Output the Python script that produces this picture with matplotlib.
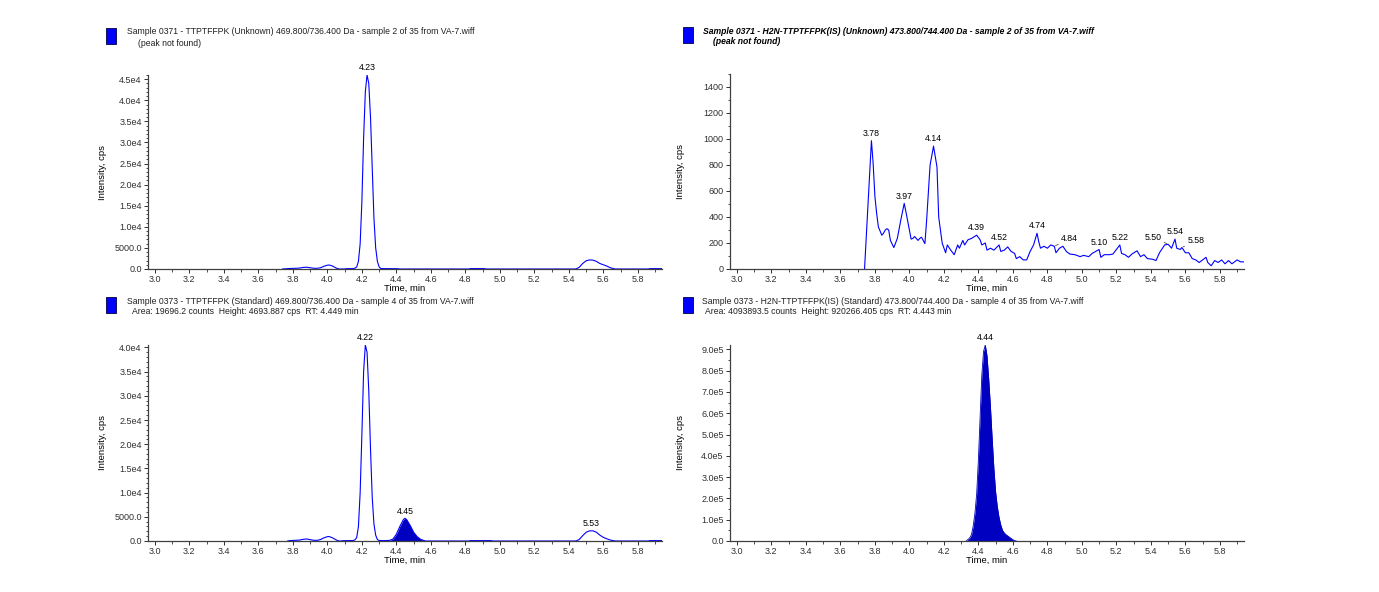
import numpy as np
import matplotlib
matplotlib.use('Agg')
import matplotlib.pyplot as plt
from matplotlib.ticker import MultipleLocator, FuncFormatter
from matplotlib.patches import Rectangle

plt.rcParams['font.family'] = ['Liberation Sans', 'DejaVu Sans']

# --- data ---
tl_time = [3.74, 3.76, 3.78, 3.80, 3.82, 3.84, 3.86, 3.88, 3.90, 3.92, 3.94, 3.96, 3.98, 4.00, 4.01,
           4.03, 4.05, 4.06, 4.07, 4.10, 4.11, 4.13, 4.15, 4.16, 4.17, 4.18, 4.19, 4.20, 4.21, 4.22,
           4.23, 4.24, 4.25, 4.26, 4.27, 4.28, 4.29, 4.30, 4.31, 4.33, 4.36, 4.39, 4.41, 4.42, 4.82,
           4.83, 4.87, 4.91, 4.92, 5.44, 5.46, 5.48, 5.50, 5.52, 5.54, 5.56, 5.58, 5.60, 5.62, 5.64,
           5.66, 5.67, 5.86, 5.87, 5.90, 5.94]
tl_int = [0, 60, 120, 150, 170, 230, 380, 430, 300, 180, 160, 280, 650, 900, 950,
          700, 250, 60, 0, 0, 80, 90, 100, 200, 500, 1800, 6000, 16000, 31000, 42000,
          46000, 44000, 36000, 24000, 12000, 5000, 1800, 500, 120, 90, 80, 80, 60, 0, 0,
          90, 100, 90, 0, 0, 400, 1300, 1950, 2150, 2100, 1800, 1300, 1000, 700, 300,
          80, 0, 0, 80, 90, 90]
tl_labels = [4.23]

tr_time = [3.74, 3.78, 3.79, 3.80, 3.81, 3.82, 3.84, 3.85, 3.86, 3.87, 3.88, 3.89, 3.91, 3.93, 3.95,
           3.97, 3.98, 4.00, 4.01, 4.02, 4.03, 4.05, 4.06, 4.07, 4.09, 4.10, 4.12, 4.14, 4.16, 4.17,
           4.19, 4.21, 4.22, 4.24, 4.26, 4.28, 4.29, 4.31, 4.32, 4.34, 4.36, 4.39, 4.41, 4.42, 4.44,
           4.45, 4.47, 4.49, 4.52, 4.53, 4.55, 4.57, 4.59, 4.61, 4.62, 4.64, 4.66, 4.68, 4.70, 4.72,
           4.74, 4.75, 4.76, 4.78, 4.80, 4.82, 4.84, 4.85, 4.87, 4.89, 4.91, 4.93, 4.96, 4.99, 5.01,
           5.04, 5.06, 5.10, 5.11, 5.13, 5.16, 5.18, 5.22, 5.23, 5.25, 5.27, 5.29, 5.32, 5.34, 5.36,
           5.38, 5.41, 5.43, 5.45, 5.48, 5.50, 5.52, 5.54, 5.55, 5.57, 5.58, 5.60, 5.62, 5.64, 5.66,
           5.68, 5.70, 5.72, 5.73, 5.75, 5.77, 5.79, 5.81, 5.83, 5.85, 5.87, 5.90, 5.92, 5.94]
tr_int = [0, 987, 810, 560, 430, 325, 260, 275, 300, 310, 300, 220, 165, 235, 375,
          505, 440, 300, 230, 235, 250, 220, 235, 245, 195, 375, 800, 945, 785, 400,
          200, 125, 185, 145, 110, 185, 160, 220, 185, 225, 235, 260, 225, 185, 200,
          145, 160, 145, 185, 135, 145, 170, 135, 120, 80, 95, 70, 70, 135, 185,
          275, 210, 160, 175, 160, 185, 175, 125, 160, 175, 135, 115, 110, 95, 105,
          95, 120, 150, 90, 110, 110, 115, 185, 120, 110, 90, 115, 140, 95, 110,
          80, 75, 65, 125, 185, 190, 160, 230, 160, 150, 165, 125, 125, 80, 70,
          50, 70, 90, 50, 25, 65, 50, 70, 40, 65, 40, 70, 55, 55]
tr_labels = [3.78, 3.97, 4.14, 4.39, 4.52, 4.74, 4.84, 5.10, 5.22, 5.50, 5.54, 5.58]

bl_time = [3.77, 3.78, 3.80, 3.82, 3.84, 3.86, 3.88, 3.90, 3.92, 3.94, 3.96, 3.98, 4.00, 4.01, 4.03,
           4.05, 4.06, 4.07, 4.08, 4.09, 4.12, 4.15, 4.16, 4.17, 4.18, 4.19, 4.20, 4.21, 4.22, 4.23,
           4.24, 4.25, 4.26, 4.27, 4.28, 4.29, 4.30, 4.33, 4.36, 4.38, 4.40, 4.42, 4.44, 4.45, 4.46,
           4.48, 4.50, 4.52, 4.54, 4.56, 4.57, 4.82, 4.83, 4.95, 4.96, 5.44, 5.46, 5.48, 5.50, 5.52,
           5.54, 5.56, 5.58, 5.60, 5.62, 5.64, 5.66, 5.67, 5.86, 5.87, 5.94]
bl_int = [0, 80, 120, 150, 200, 350, 420, 280, 150, 130, 300, 650, 900, 930, 650,
          250, 80, 0, 0, 70, 80, 100, 250, 700, 3000, 10000, 22000, 35000, 40500, 39000,
          31000, 19000, 9000, 3500, 1200, 300, 100, 80, 120, 400, 1400, 3000, 4400, 4694, 4400,
          3200, 1800, 900, 350, 100, 0, 0, 80, 80, 0, 0, 300, 1100, 1800, 2100,
          2100, 1800, 1200, 750, 450, 200, 60, 0, 0, 80, 80]
bl_labels = [4.22, 4.45, 5.53]
bl_fill = (4.36, 4.57)

br_time = [4.33, 4.35, 4.36, 4.37, 4.38, 4.39, 4.40, 4.41, 4.42, 4.43, 4.44, 4.45, 4.46, 4.47, 4.48,
           4.49, 4.50, 4.51, 4.52, 4.53, 4.54, 4.55, 4.56, 4.57, 4.58, 4.59, 4.60, 4.61, 4.62]
br_int = [0, 15000, 30000, 70000, 130000, 220000, 380000, 580000, 780000, 890000, 920266, 870000,
          760000, 630000, 480000, 340000, 230000, 160000, 110000, 75000, 50000, 38000, 30000, 24000,
          18000, 12000, 6000, 2000, 0]
br_labels = [4.44]
br_fill = (4.33, 4.62)

headers = [
    ("Sample 0371 - TTPTFFPK (Unknown) 469.800/736.400 Da - sample 2 of 35 from VA-7.wiff",
     "(peak not found)"),
    ("Sample 0371 - H2N-TTPTFFPK(IS) (Unknown) 473.800/744.400 Da - sample 2 of 35 from VA-7.wiff",
     "(peak not found)"),
    ("Sample 0373 - TTPTFFPK (Standard) 469.800/736.400 Da - sample 4 of 35 from VA-7.wiff",
     "Area: 19696.2 counts  Height: 4693.887 cps  RT: 4.449 min"),
    ("Sample 0373 - H2N-TTPTFFPK(IS) (Standard) 473.800/744.400 Da - sample 4 of 35 from VA-7.wiff",
     "Area: 4093893.5 counts  Height: 920266.405 cps  RT: 4.443 min"),
]

LINE = '#0000ff'
FILL = '#0000c0'
W, H = 1379, 592


def sci_fmt(v, pos):
    if v == 0:
        return '0.0'
    if abs(v) < 1e4:
        return '%.1f' % v
    m, e = ('%.1e' % v).split('e')
    return '%se%d' % (m, int(e))


def int_fmt(v, pos):
    return '%d' % v


def make_ax(left_px, top_px, bottom_px, ymax, ymajor, yminor, fmt, ylab_x):
    ax = fig.add_axes([left_px / W, (H - bottom_px) / H, 514 / W, (bottom_px - top_px) / H])
    ax.set_xlim(2.96, 5.94)
    ax.set_ylim(0, ymax)
    for s in ['top', 'right']:
        ax.spines[s].set_visible(False)
    for s in ['left', 'bottom']:
        ax.spines[s].set_color('#404040')
        ax.spines[s].set_linewidth(0.9)
        ax.spines[s].set_zorder(4)
    ax.xaxis.set_major_locator(MultipleLocator(0.2))
    ax.xaxis.set_minor_locator(MultipleLocator(0.1))
    ax.xaxis.set_major_formatter(FuncFormatter(lambda v, p: '%.1f' % v))
    ax.yaxis.set_major_locator(MultipleLocator(ymajor))
    ax.yaxis.set_minor_locator(MultipleLocator(yminor))
    ax.yaxis.set_major_formatter(FuncFormatter(fmt))
    ax.tick_params(which='major', length=3, width=0.7, labelsize=6.5, colors='#303030', pad=1.5)
    ax.tick_params(which='minor', length=1.8, width=0.6, colors='#303030')
    ax.set_xlabel('Time, min', fontsize=6.8, labelpad=0)
    ax.set_ylabel('Intensity, cps', fontsize=6.8)
    ax.yaxis.set_label_coords(ylab_x, 0.5)
    return ax


def label_peaks(ax, t, v, labels, offsets=None):
    offsets = offsets or {}
    for p in labels:
        y = np.interp(p, t, v)
        dx, dy = offsets.get(p, (0, 2))
        if p in offsets:
            ax.annotate('%.2f' % p, xy=(p, y), xytext=(dx, dy), textcoords='offset points',
                        ha='center', va='bottom', fontsize=6.3, annotation_clip=False,
                        arrowprops=dict(arrowstyle='-', lw=0.5, color='#303030',
                                        shrinkA=0, shrinkB=1))
        else:
            ax.annotate('%.2f' % p, xy=(p, y), xytext=(dx, dy), textcoords='offset points',
                        ha='center', va='bottom', fontsize=6.3, annotation_clip=False)


fig = plt.figure(figsize=(W / 100, H / 100), dpi=100)

ax1 = make_ax(148, 75, 269, 46000, 5000, 1000, sci_fmt, -0.08)
ax1.plot(tl_time, tl_int, color=LINE, lw=0.8)
label_peaks(ax1, tl_time, tl_int, tl_labels)

ax2 = make_ax(730, 74, 269, 1500, 200, 100, int_fmt, -0.088)
ax2.plot(tr_time, tr_int, color=LINE, lw=0.8)
label_peaks(ax2, tr_time, tr_int, tr_labels,
            offsets={4.84: (11, 2), 5.50: (-11, 2), 5.58: (10, 2)})

ax3 = make_ax(148, 345, 541, 40500, 5000, 1000, sci_fmt, -0.08)
bt = np.array(bl_time)
bv = np.array(bl_int)
m = (bt >= bl_fill[0]) & (bt <= bl_fill[1])
ax3.fill_between(bt[m], 0, bv[m], color=FILL, lw=0)
ax3.plot(bl_time, bl_int, color=LINE, lw=0.8)
label_peaks(ax3, bl_time, bl_int, bl_labels)

ax4 = make_ax(730, 345, 541, 920266, 100000, 50000, sci_fmt, -0.088)
rt = np.array(br_time)
rv = np.array(br_int)
m = (rt >= br_fill[0]) & (rt <= br_fill[1])
ax4.fill_between(rt[m], 0, rv[m], color=FILL, lw=0)
ax4.plot(br_time, br_int, color=FILL, lw=0.6)
label_peaks(ax4, br_time, br_int, br_labels)

# header blocks
header_pos = [(106, 28, 127, 138, False), (683, 27, 703, 713, True),
              (106, 297, 127, 132, False), (683, 297, 702, 705, False)]
for (l1, l2), (rx, ry, tx1, tx2, bold) in zip(headers, header_pos):
    fig.patches.append(Rectangle((rx / W, (H - ry - 16) / H), 10 / W, 16 / H,
                                 transform=fig.transFigure, facecolor='#0000ff',
                                 edgecolor='#000040', lw=0.6))
    kw = dict(fontsize=6.2, va='center', ha='left', color='#202020')
    if bold:
        kw.update(fontweight='bold', style='italic', color='black')
    fig.text(tx1 / W, 1 - (ry + 4) / H, l1, **kw)
    fig.text(tx2 / W, 1 - (ry + 15) / H, l2, **kw)

fig.savefig('out.png', dpi=100)
